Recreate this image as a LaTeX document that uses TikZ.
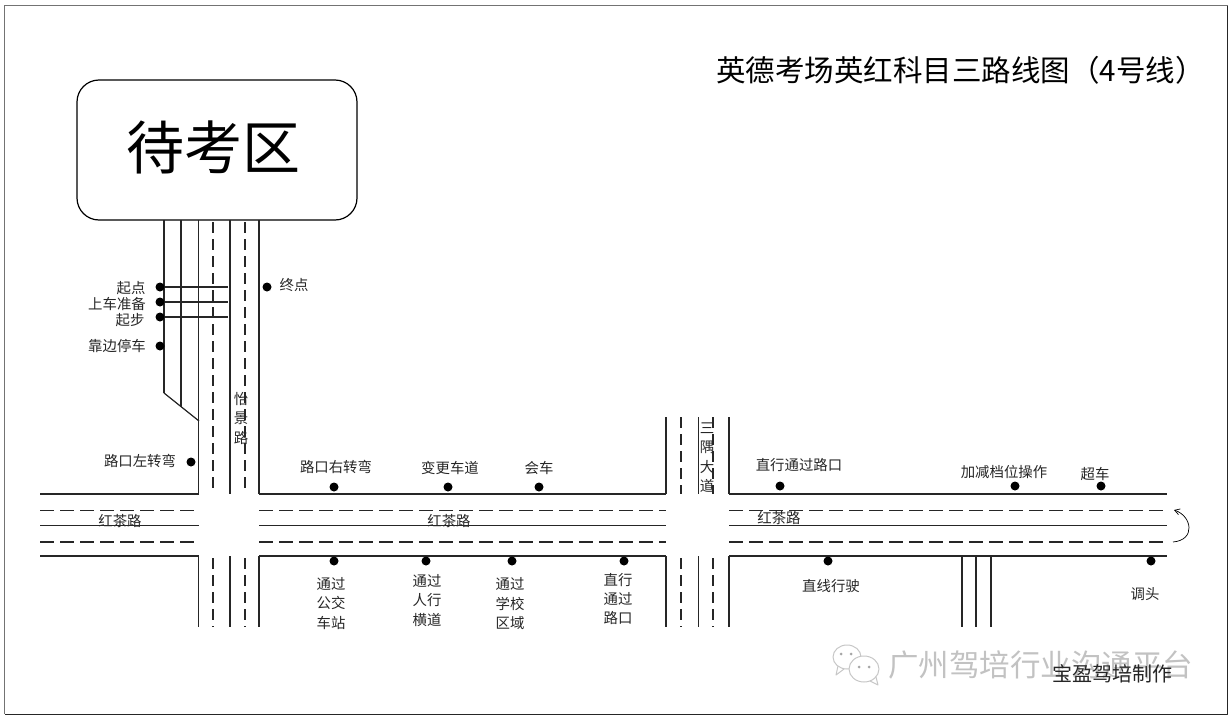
\documentclass[tikz,border=0pt]{standalone}
\usepackage{fontspec}
\setmainfont{Noto Sans CJK SC}
\usetikzlibrary{arrows.meta}
\tikzset{
  road/.style={line width=1.2pt, black!85},
  lane/.style={line width=1.2pt, black!85, dash pattern=on 14pt off 6pt},
  vlane/.style={line width=1.2pt, black!85, dash pattern=on 11pt off 6pt},
  lbl/.style={font=\fontsize{14.4}{19.5}\selectfont, text=black!85, inner sep=0pt},
  stack/.style={lbl, align=center},
  spot/.style={circle, fill=black, inner sep=0pt, minimum size=9pt},
  wm/.style={black!22}
}
\begin{document}
\begin{tikzpicture}[x=1pt, y=-1pt, line join=round, line cap=butt]
  \useasboundingbox (0,0) rectangle (1232,720);
  % frame
  \coordinate (frameA) at (4.5,714);
  \coordinate (frameB) at (4.5,5.5);
  \coordinate (frameC) at (1227.5,5.5);
  \coordinate (frameD) at (1227.5,714);
  \draw[black!55, line width=0.9pt] (frameA) -- (frameB) -- (frameC);
  \draw[black!85, line width=1pt] (frameC) -- (frameD) -- (frameA);

  % waiting area and title
  \node[draw, line width=1.2pt, rounded corners=22pt, minimum width=280pt, minimum height=140pt, inner sep=0pt] (wait) at (217,150) {};
  \node[inner sep=0pt, font=\fontsize{58}{60}\selectfont] (waitlabel) at (213.5,147) {待考区};
  \node[inner sep=0pt, font=\fontsize{29.5}{30}\selectfont, anchor=east] (title) at (1205,70) {英德考场英红科目三路线图（4号线）};

  % upper road
  \foreach \x/\yend in {164/393, 181/407, 198.5/494, 230/494, 259/494}
    \draw[road] (\x,220) -- (\x,\yend);
  \foreach \x in {213, 245}
    \draw[vlane] (\x,222) -- (\x,494);
  \coordinate (bendA) at (164,393);
  \coordinate (bendB) at (199,421);
  \draw[road] (bendA) -- (bendB);
  \foreach \y in {287, 302, 317}
    \draw[road] (164,\y) -- (228,\y);

  % main road
  \foreach \xa/\xb in {40/198.5, 259/666, 729/1167} {
    \foreach \y in {494, 525.5, 556}
      \draw[road] (\xa,\y) -- (\xb,\y);
    \foreach \y in {510.5, 542}
      \draw[lane] (\xa,\y) -- (\xb,\y);
  }

  % lower ends of the crossing roads
  \foreach \x in {198.5, 230, 259, 666, 698.5, 729, 962, 976, 991}
    \draw[road] (\x,556) -- (\x,627);
  \foreach \x in {213, 245, 681, 713}
    \draw[vlane] (\x,558) -- (\x,627);

  % upper end of the middle road
  \foreach \x in {666, 698.5, 729}
    \draw[road] (\x,417) -- (\x,494);
  \foreach \x in {681, 713}
    \draw[vlane] (\x,417) -- (\x,494);

  % turn around
  \coordinate (turnA) at (1173,542);
  \coordinate (turnB) at (1174,510);
  \draw[line width=0.7pt, -{Straight Barb[length=5pt,width=6pt]}] (turnA)
    .. controls (1196,540) and (1192,516) .. (turnB);

  % spots
  \foreach \name/\px/\py in {qd/160/287, zb/160/302, qb/160/317, kb/160/346, zd/267/287, zz/191/462,
      yz/334/487, bg/448/487, hc/539/487, zx/780/486, jj/1015/486, cc/1101/486,
      gj/334/561, rx/426/561, xx/512/561, lk/624/561, zs/828/561, dt/1151/561}
    \node[spot] (\name) at (\px,\py) {};

  % labels
  \foreach \name/\px/\py/\txt in {tqd/131/288/起点, tzb/117/304/上车准备, tqb/130/320/起步, tkb/117/346/靠边停车,
      tzd/294/285/终点, tzz/140/461/路口左转弯, tyz/336/467/路口右转弯, tbg/450/468/变更车道, thc/539/468/会车,
      tzx/799/465/直行通过路口, tjj/1004/472/加减档位操作, tcc/1095/474/超车, tzs/831/586/直线行驶, tdt/1145/594/调头,
      rda/120/521/红茶路, rdb/449/521/红茶路, rdc/779/518/红茶路}
    \node[lbl] (\name) at (\px,\py) {\txt};
  \node[stack] (tgj) at (331,603.5) {通过\\公交\\车站};
  \node[stack] (trx) at (427,600.5) {通过\\人行\\横道};
  \node[stack] (txx) at (510,604) {通过\\学校\\区域};
  \node[stack] (tlk) at (618,599) {直行\\通过\\路口};
  \node[stack] (rdv) at (241,418.5) {怡\\景\\路};
  \node[stack] (rdm) at (707,457.5) {三\\隅\\大\\道};

  % watermark
  \node[inner sep=0pt, anchor=west, font=\fontsize{30.5}{32}\selectfont, text=black!24] (mark) at (888,665) {广州驾培行业沟通平台};
  \node[inner sep=0pt, anchor=east, font=\fontsize{20}{22}\selectfont, text=black!85] (maker) at (1173,674) {宝盈驾培制作};
  \draw[wm, line width=1pt, fill=white] (847,657) ellipse (14pt and 12pt);
  \draw[wm, line width=1pt] (838,666) -- (836,675) -- (844,669);
  \draw[wm, line width=1pt, fill=white] (864,669) ellipse (15pt and 13pt);
  \draw[wm, line width=1pt] (870,681) -- (878,685) -- (876,677);
  \foreach \px/\py in {841/654, 851/654, 859/667, 869/667}
    \fill[black!35] (\px,\py) circle (1.5pt);
\end{tikzpicture}
\end{document}
